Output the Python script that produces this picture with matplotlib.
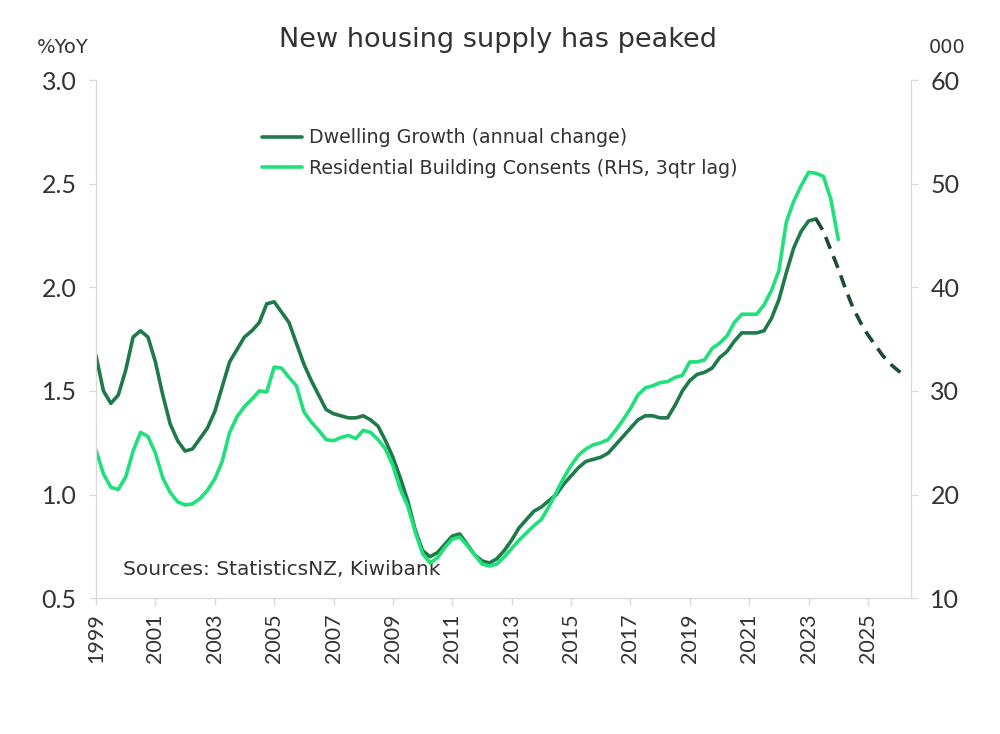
import numpy as np
import matplotlib
matplotlib.use("Agg")
import matplotlib.pyplot as plt

plt.rcParams['font.family'] = ['Lato', 'DejaVu Sans']

start_year = 1999.0
step = 0.25

dwelling_growth = [
    1.67, 1.50, 1.44, 1.48, 1.60, 1.76, 1.79, 1.76,
    1.64, 1.48, 1.34, 1.26, 1.21, 1.22, 1.27, 1.32,
    1.40, 1.52, 1.64, 1.70, 1.76, 1.79, 1.83, 1.92,
    1.93, 1.88, 1.83, 1.73, 1.63, 1.55, 1.48, 1.41,
    1.39, 1.38, 1.37, 1.37, 1.38, 1.36, 1.33, 1.26,
    1.18, 1.08, 0.97, 0.83, 0.73, 0.70, 0.72, 0.76,
    0.80, 0.81, 0.76, 0.71, 0.68, 0.67, 0.69, 0.73,
    0.78, 0.84, 0.88, 0.92, 0.94, 0.97, 1.00, 1.05,
    1.09, 1.13, 1.16, 1.17, 1.18, 1.20, 1.24, 1.28,
    1.32, 1.36, 1.38, 1.38, 1.37, 1.37, 1.43, 1.50,
    1.55, 1.58, 1.59, 1.61, 1.66, 1.69, 1.74, 1.78,
    1.78, 1.78, 1.79, 1.85, 1.94, 2.07, 2.19, 2.27,
    2.32, 2.33,
]

dwelling_forecast = [
    2.33, 2.27, 2.18, 2.09, 1.99, 1.90, 1.83, 1.77,
    1.72, 1.67, 1.63, 1.60, 1.57,
]

building_consents = [
    24.3, 22.0, 20.7, 20.5, 21.7, 24.2, 26.0, 25.6,
    24.0, 21.6, 20.2, 19.3, 19.0, 19.1, 19.6, 20.4,
    21.5, 23.2, 26.0, 27.5, 28.5, 29.2, 30.0, 29.9,
    32.3, 32.2, 31.3, 30.5, 28.0, 27.0, 26.2, 25.3,
    25.2, 25.5, 25.7, 25.4, 26.2, 26.0, 25.3, 24.4,
    22.8, 20.5, 18.9, 16.4, 14.3, 13.4, 13.9, 14.9,
    15.7, 15.9, 15.1, 14.2, 13.3, 13.1, 13.3, 14.0,
    14.8, 15.6, 16.3, 17.0, 17.6, 18.8, 20.2, 21.6,
    22.8, 23.8, 24.4, 24.8, 25.0, 25.3, 26.2, 27.2,
    28.3, 29.6, 30.3, 30.5, 30.8, 30.9, 31.3, 31.5,
    32.8, 32.8, 33.0, 34.1, 34.6, 35.3, 36.6, 37.4,
    37.4, 37.4, 38.3, 39.7, 41.6, 46.3, 48.3, 49.8,
    51.1, 51.0, 50.7, 48.5, 44.6,
]

year_ticks = list(range(1999, 2027, 2))
left_ticks = [0.5, 1.0, 1.5, 2.0, 2.5, 3.0]
right_ticks = [10, 20, 30, 40, 50, 60]

x_dw = start_year + step * np.arange(len(dwelling_growth))
x_fc = x_dw[-1] + step * np.arange(len(dwelling_forecast))
x_bc = start_year + step * np.arange(len(building_consents))

dark = '#1f7a4a'
light = '#1fe07a'
txt = '#333333'
spine_c = '#d9d9d9'
wide = ['DejaVu Sans']

fig = plt.figure(figsize=(10, 7.34), dpi=100)
ax = fig.add_axes([0.096, 0.185, 0.815, 0.706])
ax2 = ax.twinx()

ax.plot(x_dw, dwelling_growth, color=dark, lw=2.6, solid_capstyle='round',
        label='Dwelling Growth (annual change)', zorder=3)
ax.plot(x_fc, dwelling_forecast, color='#1a4d33', lw=2.6, ls=(0, (3.5, 2.2)), zorder=3)
ax2.plot(x_bc, building_consents, color=light, lw=2.6, solid_capstyle='round',
         label='Residential Building Consents (RHS, 3qtr lag)', zorder=2)

ax.set_xlim(1999, 2026.45)
ax.set_ylim(0.5, 3.0)
ax2.set_ylim(10, 60)
ax.set_yticks(left_ticks)
ax.set_yticklabels([f'{v:.1f}' for v in left_ticks])
ax2.set_yticks(right_ticks)
ax.set_xticks(year_ticks)
ax.set_xticklabels([str(y) for y in year_ticks], rotation=90)

for a in (ax, ax2):
    for s in a.spines.values():
        s.set_color(spine_c)
    a.spines['top'].set_visible(False)
    a.tick_params(colors=spine_c, labelcolor=txt, length=5, width=1)
ax.tick_params(axis='y', labelsize=18, pad=9)
ax2.tick_params(axis='y', labelsize=18, pad=9)
ax.tick_params(axis='x', labelsize=15.5, pad=6)

fig.text(0.498, 0.945, 'New housing supply has peaked', ha='center', va='center',
         fontsize=19.5, color=txt, family=wide)
fig.text(0.037, 0.935, '%YoY', ha='left', va='center', fontsize=14, color=txt, family=wide)
fig.text(0.947, 0.935, '000', ha='center', va='center', fontsize=14, color=txt, family=wide)
ax.text(0.033, 0.055, 'Sources: StatisticsNZ, Kiwibank', transform=ax.transAxes,
        ha='left', va='center', fontsize=14.5, color=txt, family=wide)

h1, l1 = ax.get_legend_handles_labels()
h2, l2 = ax2.get_legend_handles_labels()
leg = ax.legend(h1 + h2, l1 + l2, loc='upper left', bbox_to_anchor=(0.183, 0.94),
                frameon=False, prop={'family': 'DejaVu Sans', 'size': 13.7},
                handlelength=2.1, handletextpad=0.35, labelspacing=0.62, labelcolor=txt)

fig.savefig('out.png', dpi=100, facecolor='white')
